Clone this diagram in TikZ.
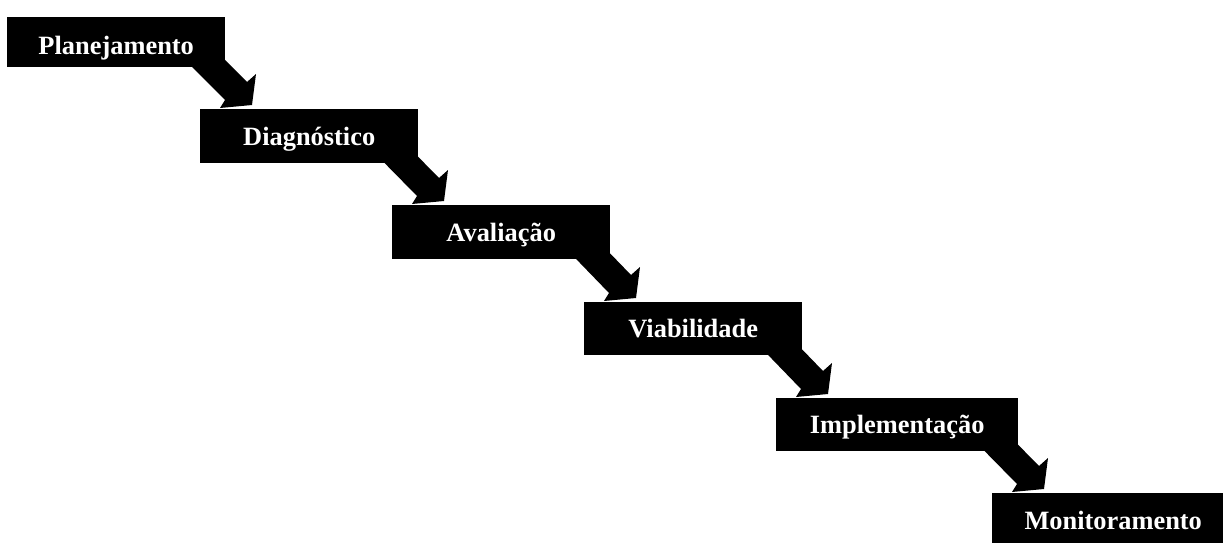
\documentclass[tikz,border=0pt]{standalone}
\usepackage{fontspec}
\setmainfont{Liberation Serif}
\usetikzlibrary{calc,backgrounds}
\begin{document}
\begin{tikzpicture}[x=1pt,y=-1pt,
  stepbox/.style={fill=black, text=white, inner sep=0pt, anchor=north west,
    minimum width=218pt, minimum height=54pt, text height=18pt, text depth=0pt,
    font=\fontsize{26.4pt}{30pt}\selectfont\bfseries},
  stepflow/.style={fill=black}]
\useasboundingbox (0,0) rectangle (1223,543);
\clip (0,0) rectangle (1223,543);

% the stages, one step down and to the right each time
\node[stepbox, minimum height=50pt, text height=24pt] (b1) at (7,17) {Planejamento};
\node[stepbox] (b2) at (200,109) {Diagnóstico};
\node[stepbox] (b3) at (392,205) {Avaliação};
\node[stepbox, minimum height=53pt] (b4) at (584,302) {Viabilidade};
\node[stepbox, minimum width=242pt, minimum height=53pt] (b5) at (776,398) {Implementação};
\node[stepbox, minimum width=242pt] (b6) at (992,493) {Monitoramento};

% broad 45-degree arrows leading from each stage to the next
\begin{scope}[on background layer]
\foreach \a/\b in {b1/b2, b2/b3, b3/b4, b4/b5, b5/b6}{
  \fill[stepflow]
    ($(\a.south east)+(-60,-27)$) --
    ($(\b.north west)+(25,-9)$) --
    ($(\b.north west)+(20,-1)$) --
    ($(\b.north west)+(52,-4)$) --
    ($(\b.north west)+(56,-35)$) --
    ($(\b.north west)+(47,-27)$) --
    ($(\a.south east)+(-38,-45)$) -- cycle;
}
\end{scope}
\end{tikzpicture}
\end{document}
